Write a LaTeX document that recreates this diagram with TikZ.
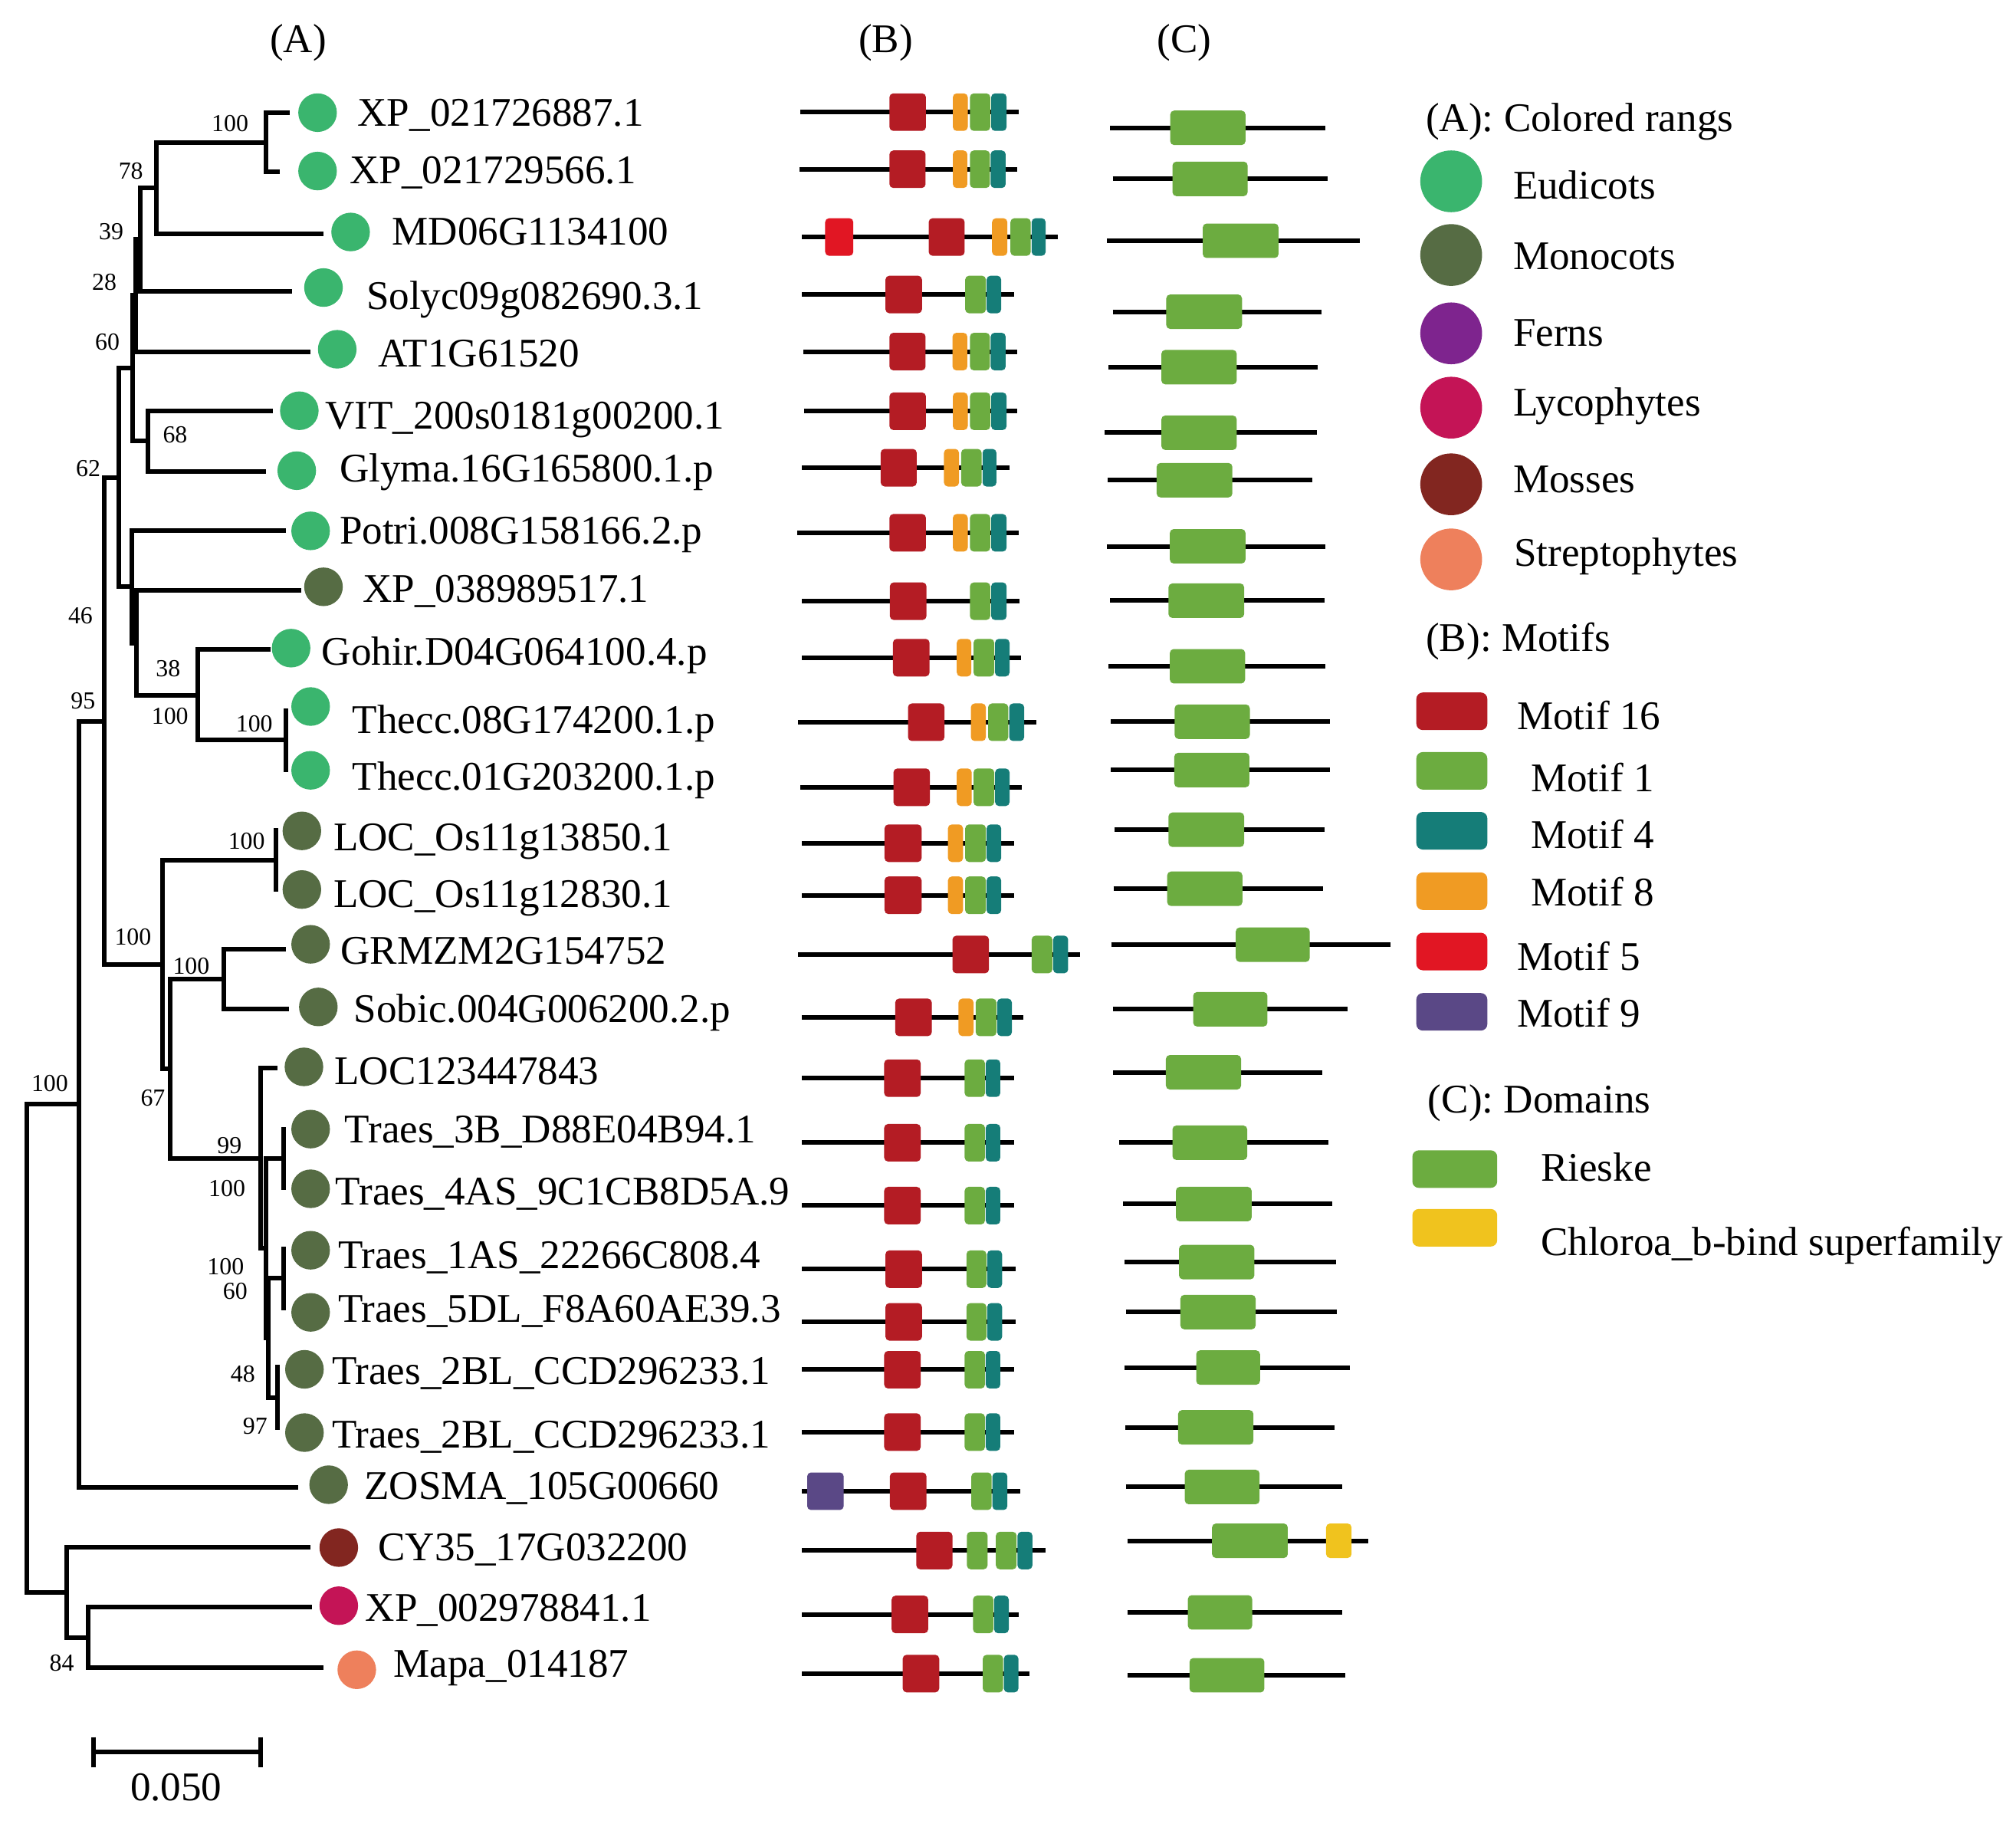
\documentclass[tikz,border=0pt]{standalone}
\usepackage{fontspec}
\setmainfont{Liberation Serif}
\definecolor{eud}{RGB}{58,181,110}
\definecolor{mono}{RGB}{86,108,68}
\definecolor{fern}{RGB}{126,36,142}
\definecolor{lyco}{RGB}{196,20,86}
\definecolor{moss}{RGB}{130,38,32}
\definecolor{strep}{RGB}{238,128,92}
\definecolor{cA}{RGB}{180,28,36}
\definecolor{cB}{RGB}{108,172,64}
\definecolor{cC}{RGB}{21,125,120}
\definecolor{cD}{RGB}{240,155,35}
\definecolor{cE}{RGB}{225,22,35}
\definecolor{cF}{RGB}{90,72,134}
\definecolor{cG}{RGB}{240,195,30}
\newcommand\seqrow[3]{\draw[seq] (#1,#3) -- (#2,#3);}
\newcommand\motbox[4]{\fill[#1] (#2,#4-14.6) rectangle (#3,#4+14.6);}
\newcommand\dombox[4]{\fill[#1] (#2,#4-13.4) rectangle (#3,#4+13.4);}
\begin{document}
\begin{tikzpicture}[x=0.01cm,y=-0.01cm,
  tree/.style={line width=1.02pt},
  seq/.style={line width=1.02pt},
  boot/.style={inner sep=0,font=\fontsize{5.4pt}{6pt}\selectfont},
  lab/.style={anchor=base west,inner sep=0,font=\fontsize{9pt}{11pt}\selectfont},
  head/.style={anchor=base,inner sep=0,font=\fontsize{9pt}{11pt}\selectfont},
  dot/.style={circle,inner sep=0,minimum size=0.30cm},
  legdot/.style={circle,inner sep=0,minimum size=0.48cm},
  mA/.style={fill=cA,rounded corners=0.03cm},
  mB/.style={fill=cB,rounded corners=0.03cm},
  mC/.style={fill=cC,rounded corners=0.03cm},
  mD/.style={fill=cD,rounded corners=0.03cm},
  mE/.style={fill=cE,rounded corners=0.03cm},
  mF/.style={fill=cF,rounded corners=0.03cm},
  dom/.style={fill=cB,rounded corners=0.03cm},
  chl/.style={fill=cG,rounded corners=0.03cm},
  legbox/.style={rounded corners=0.05cm}]
\fill[white] (0,0) rectangle (1568,1418);
\useasboundingbox (0,0) rectangle (1568,1418);

% headers
\node[head] (hA) at (232,41) {(A)};
\node[head] (hB) at (689,41) {(B)};
\node[head] (hC) at (921,41) {(C)};

% ---------- tree coordinates ----------
\coordinate (r) at (20.8,1048.5);
\coordinate (nSeed) at (61.2,858.7);
\coordinate (n84) at (51.9,1238.3);
\coordinate (nLyco) at (68.7,1273.2);
\coordinate (n95) at (81.1,561);
\coordinate (n62) at (92.4,371.3);
\coordinate (n60) at (103,286.3);
\coordinate (n28) at (105.8,229.7);
\coordinate (n39) at (109.3,186.3);
\coordinate (n78) at (121.8,146);
\coordinate (nA) at (207,110.7);
\coordinate (n68) at (115.3,343);
\coordinate (nPo) at (102.4,456.2);
\coordinate (nXP) at (106.4,500);
\coordinate (n38) at (154.1,540.7);
\coordinate (nTh) at (222.6,575.5);
\coordinate (nMo) at (126.2,750);
\coordinate (nLOC) at (214.7,668.9);
\coordinate (n67) at (132.2,831.3);
\coordinate (nGS) at (173.9,761.4);
\coordinate (n99) at (202.8,900.6);
\coordinate (nW) at (206.7,970.8);
\coordinate (n3B) at (220.3,901);
\coordinate (n48) at (208.7,1040.5);
\coordinate (n1AS) at (220.7,994);
\coordinate (n2BL) at (215.7,1086.8);
% tips
\coordinate (t1) at (225.6,87.6);
\coordinate (t2) at (217.6,133.8);
\coordinate (t3) at (251.6,181.6);
\coordinate (t4) at (227,226.6);
\coordinate (t5) at (241.5,273.4);
\coordinate (t6) at (212.3,319.7);
\coordinate (t7) at (207.1,366.4);
\coordinate (t8) at (222.6,412.5);
\coordinate (t9) at (234.6,459.2);
\coordinate (t10) at (210.7,504.9);
\coordinate (t11) at (222.6,550.6);
\coordinate (t12) at (222.6,600.3);
\coordinate (t13) at (214.7,644);
\coordinate (t14) at (214.7,693.3);
\coordinate (t15) at (222.6,737.9);
\coordinate (t16) at (225,784.8);
\coordinate (t17) at (215.7,830.4);
\coordinate (t18) at (220.3,876.6);
\coordinate (t19) at (220.3,925.3);
\coordinate (t20) at (220.7,969.6);
\coordinate (t21) at (220.7,1018.7);
\coordinate (t22) at (215.7,1061.4);
\coordinate (t23) at (215.7,1112.1);
\coordinate (t24) at (232.2,1156.4);
\coordinate (t25) at (241.6,1203.4);
\coordinate (t26) at (242.8,1249.5);
\coordinate (t27) at (251.6,1296.8);

% ---------- tree edges ----------
\draw[tree] (r) |- (nSeed);
\draw[tree] (r) |- (n84);
\draw[tree] (n84) |- (t25);
\draw[tree] (n84) |- (nLyco);
\draw[tree] (nLyco) |- (t26);
\draw[tree] (nLyco) |- (t27);
\draw[tree] (nSeed) |- (n95);
\draw[tree] (nSeed) |- (t24);
\draw[tree] (n95) |- (n62);
\draw[tree] (n95) |- (nMo);
\draw[tree] (n62) |- (n60);
\draw[tree] (n62) |- (nPo);
\draw[tree] (n60) |- (n28);
\draw[tree] (n60) |- (n68);
\draw[tree] (n28) |- (n39);
\draw[tree] (n28) |- (t5);
\draw[tree] (n39) |- (n78);
\draw[tree] (n39) |- (t4);
\draw[tree] (n78) |- (nA);
\draw[tree] (n78) |- (t3);
\draw[tree] (nA) |- (t1);
\draw[tree] (nA) |- (t2);
\draw[tree] (n68) |- (t6);
\draw[tree] (n68) |- (t7);
\draw[tree] (nPo) |- (t8);
\draw[tree] (nPo) |- (nXP);
\draw[tree] (nXP) |- (t9);
\draw[tree] (nXP) |- (n38);
\draw[tree] (n38) |- (t10);
\draw[tree] (n38) |- (nTh);
\draw[tree] (nTh) |- (t11);
\draw[tree] (nTh) |- (t12);
\draw[tree] (nMo) |- (nLOC);
\draw[tree] (nMo) |- (n67);
\draw[tree] (nLOC) |- (t13);
\draw[tree] (nLOC) |- (t14);
\draw[tree] (n67) |- (nGS);
\draw[tree] (n67) |- (n99);
\draw[tree] (nGS) |- (t15);
\draw[tree] (nGS) |- (t16);
\draw[tree] (n99) |- (t17);
\draw[tree] (n99) |- (nW);
\draw[tree] (nW) |- (n3B);
\draw[tree] (nW) |- (n48);
\draw[tree] (n3B) |- (t18);
\draw[tree] (n3B) |- (t19);
\draw[tree] (n48) |- (n1AS);
\draw[tree] (n48) |- (n2BL);
\draw[tree] (n1AS) |- (t20);
\draw[tree] (n1AS) |- (t21);
\draw[tree] (n2BL) |- (t22);
\draw[tree] (n2BL) |- (t23);

% ---------- bootstrap values ----------
\node[boot] (b1) at (178.9,95.8) {100};
\node[boot] (b2) at (101.8,133.2) {78};
\node[boot] (b3) at (86.5,180) {39};
\node[boot] (b4) at (81.1,219.7) {28};
\node[boot] (b5) at (83.5,266) {60};
\node[boot] (b6) at (136.2,338) {68};
\node[boot] (b7) at (68.6,364.5) {62};
\node[boot] (b8) at (62.6,479) {46};
\node[boot] (b9) at (130.8,519.8) {38};
\node[boot] (b10) at (64.6,544.7) {95};
\node[boot] (b11) at (132.2,556.6) {100};
\node[boot] (b12) at (197.8,562.6) {100};
\node[boot] (b13) at (191.8,654) {100};
\node[boot] (b14) at (103.4,728.5) {100};
\node[boot] (b15) at (148.7,751.4) {100};
\node[boot] (b16) at (38.7,842.3) {100};
\node[boot] (b17) at (118.9,853.7) {67};
\node[boot] (b18) at (178.5,890.5) {99};
\node[boot] (b19) at (176.5,924.3) {100};
\node[boot] (b20) at (175.5,984.9) {100};
\node[boot] (b21) at (182.9,1003.8) {60};
\node[boot] (b22) at (188.9,1068.4) {48};
\node[boot] (b23) at (198.4,1108.7) {97};
\node[boot] (b24) at (48,1293) {84};

% ---------- leaf dots ----------
\node[dot,fill=eud] (c1) at (247,87.6) {};
\node[dot,fill=eud] (c2) at (247,133) {};
\node[dot,fill=eud] (c3) at (272.7,180.4) {};
\node[dot,fill=eud] (c4) at (251.6,223.6) {};
\node[dot,fill=eud] (c5) at (262.3,271.6) {};
\node[dot,fill=eud] (c6) at (232.8,319.4) {};
\node[dot,fill=eud] (c7) at (230.8,366) {};
\node[dot,fill=eud] (c8) at (241.6,412.8) {};
\node[dot,fill=mono] (c9) at (251.6,456.3) {};
\node[dot,fill=eud] (c10) at (226.4,504) {};
\node[dot,fill=eud] (c11) at (241.6,549.4) {};
\node[dot,fill=eud] (c12) at (241.6,599) {};
\node[dot,fill=mono] (c13) at (234.8,646.1) {};
\node[dot,fill=mono] (c14) at (234.8,691.7) {};
\node[dot,fill=mono] (c15) at (241.6,734.3) {};
\node[dot,fill=mono] (c16) at (247.6,783) {};
\node[dot,fill=mono] (c17) at (236.4,829.6) {};
\node[dot,fill=mono] (c18) at (241.6,878) {};
\node[dot,fill=mono] (c19) at (241.6,924.4) {};
\node[dot,fill=mono] (c20) at (241.6,972.2) {};
\node[dot,fill=mono] (c21) at (241.6,1020.5) {};
\node[dot,fill=mono] (c22) at (236.8,1064.8) {};
\node[dot,fill=mono] (c23) at (236.8,1114) {};
\node[dot,fill=mono] (c24) at (255.6,1154.5) {};
\node[dot,fill=moss] (c25) at (263.5,1203.4) {};
\node[dot,fill=lyco] (c26) at (263.5,1248.6) {};
\node[dot,fill=strep] (c27) at (277.5,1298.4) {};

% ---------- leaf labels ----------
\node[lab] (L1) at (277.5,98) {XP\_021726887.1};
\node[lab] (L2) at (271.5,143) {XP\_021729566.1};
\node[lab] (L3) at (304.3,190.7) {MD06G1134100};
\node[lab] (L4) at (284.3,240.3) {Solyc09g082690.3.1};
\node[lab] (L5) at (293.5,285) {AT1G61520};
\node[lab] (L6) at (252.4,333.7) {VIT\_200s0181g00200.1};
\node[lab] (L7) at (263.5,374.8) {Glyma.16G165800.1.p};
\node[lab] (L8) at (263.5,422.8) {Potri.008G158166.2.p};
\node[lab] (L9) at (281.5,468.5) {XP\_038989517.1};
\node[lab] (L10) at (249.6,517.4) {Gohir.D04G064100.4.p};
\node[lab] (L11) at (273.5,570) {Thecc.08G174200.1.p};
\node[lab] (L12) at (273.5,614.2) {Thecc.01G203200.1.p};
\node[lab] (L13) at (258.7,661.3) {LOC\_Os11g13850.1};
\node[lab] (L14) at (258.7,705.4) {LOC\_Os11g12830.1};
\node[lab] (L15) at (264.3,749.5) {GRMZM2G154752};
\node[lab] (L16) at (274.7,795.2) {Sobic.004G006200.2.p};
\node[lab] (L17) at (259.5,843.3) {LOC123447843};
\node[lab] (L18) at (267.5,888.6) {Traes\_3B\_D88E04B94.1};
\node[lab] (L19) at (260.3,937) {Traes\_4AS\_9C1CB8D5A.9};
\node[lab] (L20) at (262.3,986.2) {Traes\_1AS\_22266C808.4};
\node[lab] (L21) at (262.3,1028) {Traes\_5DL\_F8A60AE39.3};
\node[lab] (L22) at (257.5,1076.3) {Traes\_2BL\_CCD296233.1};
\node[lab] (L23) at (257.5,1126) {Traes\_2BL\_CCD296233.1};
\node[lab] (L24) at (282.7,1165.6) {ZOSMA\_105G00660};
\node[lab] (L25) at (293.5,1213.7) {CY35\_17G032200};
\node[lab] (L26) at (283.5,1260.4) {XP\_002978841.1};
\node[lab] (L27) at (305.5,1304) {Mapa\_014187};

% ---------- scale bar ----------
\coordinate (sb1) at (73,1362.6);
\coordinate (sb2) at (202.8,1362.6);
\draw[tree] (sb1) -- (sb2);
\draw[tree] (73,1350.7) -- (73,1374.1);
\draw[tree] (202.8,1350.7) -- (202.8,1374.1);
\node[head] (sbl) at (137,1400) {0.050};

% ---------- (B) motifs ----------
\seqrow{622.7}{792.1}{87.2}
\motbox{mA}{691.8}{720.2}{87.2}\motbox{mD}{741.1}{752.7}{87.2}\motbox{mB}{754.4}{770.2}{87.2}\motbox{mC}{770.9}{782.9}{87.2}
\seqrow{622}{791.4}{131.6}
\motbox{mA}{691.8}{719.9}{131.6}\motbox{mD}{741.1}{752.4}{131.6}\motbox{mB}{754.4}{769.9}{131.6}\motbox{mC}{770.5}{782.2}{131.6}
\seqrow{623.7}{822.9}{184.3}
\motbox{mE}{641.8}{663.7}{184.3}\motbox{mA}{722.3}{750.3}{184.3}\motbox{mD}{771.6}{783.5}{184.3}\motbox{mB}{785.9}{801.7}{184.3}\motbox{mC}{802.4}{813.3}{184.3}
\seqrow{623.7}{788.7}{229}
\motbox{mA}{688.7}{717.1}{229}\motbox{mB}{750.7}{766.8}{229}\motbox{mC}{767.4}{778.7}{229}
\seqrow{625}{791.4}{273.4}
\motbox{mA}{691.8}{719.9}{273.4}\motbox{mD}{740.8}{752.4}{273.4}\motbox{mB}{754.4}{769.9}{273.4}\motbox{mC}{770.5}{782.2}{273.4}
\seqrow{625.4}{791.4}{319.8}
\motbox{mA}{691.8}{720.2}{319.8}\motbox{mD}{741.1}{752.7}{319.8}\motbox{mB}{754.4}{770.2}{319.8}\motbox{mC}{770.9}{782.9}{319.8}
\seqrow{623.7}{784.9}{363.7}
\motbox{mA}{685}{713}{363.7}\motbox{mD}{734.2}{745.9}{363.7}\motbox{mB}{747.6}{763.5}{363.7}\motbox{mC}{764.2}{775}{363.7}
\seqrow{620.3}{792.1}{414.3}
\motbox{mA}{691.8}{720.2}{414.3}\motbox{mD}{741.1}{752.7}{414.3}\motbox{mB}{754.4}{770.2}{414.3}\motbox{mC}{770.9}{782.9}{414.3}
\seqrow{623.7}{793.1}{467.5}
\motbox{mA}{692.1}{720.6}{467.5}\motbox{mB}{754.4}{770.2}{467.5}\motbox{mC}{770.9}{782.9}{467.5}
\seqrow{623.7}{794.1}{511.4}
\motbox{mA}{694.5}{723}{511.4}\motbox{mD}{744.2}{755.5}{511.4}\motbox{mB}{757.2}{773.3}{511.4}\motbox{mC}{773.9}{785.2}{511.4}
\seqrow{620.9}{805.8}{561.6}
\motbox{mA}{706.2}{734.6}{561.6}\motbox{mD}{755.1}{766.8}{561.6}\motbox{mB}{768.5}{784.2}{561.6}\motbox{mC}{784.9}{796.6}{561.6}
\seqrow{622.7}{794.8}{612.2}
\motbox{mA}{694.9}{723.3}{612.2}\motbox{mD}{744.2}{755.8}{612.2}\motbox{mB}{757.2}{773.3}{612.2}\motbox{mC}{774}{785.2}{612.2}
\seqrow{623.7}{788.7}{655.7}
\motbox{mA}{688}{716.8}{655.7}\motbox{mD}{737.3}{749}{655.7}\motbox{mB}{750.7}{766.8}{655.7}\motbox{mC}{767.4}{778.7}{655.7}
\seqrow{623.7}{788.7}{696.2}
\motbox{mA}{688}{716.8}{696.2}\motbox{mD}{737.3}{749}{696.2}\motbox{mB}{750.7}{766.8}{696.2}\motbox{mC}{767.4}{778.7}{696.2}
\seqrow{620.9}{840}{742.2}
\motbox{mA}{740.8}{769.2}{742.2}\motbox{mB}{802.4}{818.5}{742.2}\motbox{mC}{819.1}{830.8}{742.2}
\seqrow{623.7}{796.2}{791.1}
\motbox{mA}{696.3}{724.7}{791.1}\motbox{mD}{745.5}{757.2}{791.1}\motbox{mB}{758.9}{775}{791.1}\motbox{mC}{775.6}{787}{791.1}
\seqrow{623.7}{788.7}{838.4}
\motbox{mA}{687.7}{716.1}{838.4}\motbox{mB}{750.3}{766.1}{838.4}\motbox{mC}{766.7}{778}{838.4}
\seqrow{623.7}{788.7}{888.6}
\motbox{mA}{687.7}{716.1}{888.6}\motbox{mB}{750.3}{766.1}{888.6}\motbox{mC}{766.7}{778}{888.6}
\seqrow{623.7}{788.7}{937.5}
\motbox{mA}{687.7}{716.1}{937.5}\motbox{mB}{750.3}{766.1}{937.5}\motbox{mC}{766.7}{778}{937.5}
\seqrow{623.7}{789.7}{986.9}
\motbox{mA}{688.7}{717.1}{986.9}\motbox{mB}{751.7}{767.2}{986.9}\motbox{mC}{767.8}{779.4}{986.9}
\seqrow{623.7}{789.7}{1027.9}
\motbox{mA}{688.7}{717.1}{1027.9}\motbox{mB}{751.7}{767.2}{1027.9}\motbox{mC}{767.8}{779.4}{1027.9}
\seqrow{623.7}{788.7}{1065.1}
\motbox{mA}{687.7}{716.1}{1065.1}\motbox{mB}{750.3}{766.1}{1065.1}\motbox{mC}{766.7}{778}{1065.1}
\seqrow{623.7}{788.7}{1113.6}
\motbox{mA}{687.7}{716.1}{1113.6}\motbox{mB}{750.3}{766.1}{1113.6}\motbox{mC}{766.7}{778}{1113.6}
\seqrow{623.7}{793.8}{1159.6}
\motbox{mF}{627.8}{656.2}{1159.6}\motbox{mA}{692.1}{720.6}{1159.6}\motbox{mB}{755.5}{771.3}{1159.6}\motbox{mC}{771.9}{783.5}{1159.6}
\seqrow{623.7}{813.3}{1205.7}
\motbox{mA}{712.7}{740.8}{1205.7}\motbox{mB}{752}{768.1}{1205.7}\motbox{mB}{774.6}{790.7}{1205.7}\motbox{mC}{791.4}{803}{1205.7}
\seqrow{623.7}{792.4}{1255.4}
\motbox{mA}{693.5}{721.9}{1255.4}\motbox{mB}{756.8}{772.6}{1255.4}\motbox{mC}{773.2}{784.6}{1255.4}
\seqrow{623.7}{800.7}{1301.4}
\motbox{mA}{702.1}{730.5}{1301.4}\motbox{mB}{764.4}{780.2}{1301.4}\motbox{mC}{780.8}{792.1}{1301.4}

% ---------- (C) domains ----------
\seqrow{863.3}{1031}{99.4}\dombox{dom}{910.2}{968.7}{99.4}
\seqrow{865.4}{1032.7}{139.1}\dombox{dom}{911.9}{970.4}{139.1}
\seqrow{860.9}{1057.7}{187.2}\dombox{dom}{935.5}{994.4}{187.2}
\seqrow{865.4}{1027.6}{242.4}\dombox{dom}{907.1}{966}{242.4}
\seqrow{862.3}{1024.9}{285.5}\dombox{dom}{903.3}{961.9}{285.5}
\seqrow{859.2}{1024.2}{336.5}\dombox{dom}{903.3}{961.9}{336.5}
\seqrow{861.6}{1020.8}{373.4}\dombox{dom}{899.6}{958.5}{373.4}
\seqrow{860.9}{1031}{424.8}\dombox{dom}{909.9}{968.7}{424.8}
\seqrow{863.3}{1030.3}{467.1}\dombox{dom}{908.8}{967.7}{467.1}
\seqrow{862}{1031}{518.1}\dombox{dom}{909.9}{968.4}{518.1}
\seqrow{864}{1034.4}{561.2}\dombox{dom}{913.6}{972.1}{561.2}
\seqrow{864}{1034.4}{598.8}\dombox{dom}{913.3}{971.8}{598.8}
\seqrow{867}{1030.3}{645.2}\dombox{dom}{908.8}{967.7}{645.2}
\seqrow{866}{1029.3}{691.1}\dombox{dom}{907.8}{966.3}{691.1}
\seqrow{864.3}{1081.3}{734.6}\dombox{dom}{961.2}{1018.7}{734.6}
\seqrow{865.4}{1048.1}{784.8}\dombox{dom}{928}{985.8}{784.8}
\seqrow{865.7}{1028.3}{833.8}\dombox{dom}{906.8}{965.3}{833.8}
\seqrow{870.5}{1033.4}{888.6}\dombox{dom}{911.9}{970.1}{888.6}
\seqrow{873.6}{1036.2}{936.3}\dombox{dom}{914.6}{973.5}{936.3}
\seqrow{874.9}{1038.9}{981.4}\dombox{dom}{917}{975.6}{981.4}
\seqrow{875.6}{1039.6}{1020.3}\dombox{dom}{918.1}{976.6}{1020.3}
\seqrow{874.9}{1049.9}{1063.4}\dombox{dom}{930.4}{980}{1063.4}
\seqrow{875.3}{1037.9}{1109.9}\dombox{dom}{916.3}{974.9}{1109.9}
\seqrow{875.6}{1043.7}{1156.3}\dombox{dom}{921.5}{979.7}{1156.3}
\seqrow{877}{1064.2}{1198.1}\dombox{dom}{942.7}{1001.6}{1198.1}\dombox{chl}{1031.4}{1051.2}{1198.1}
\seqrow{877}{1043.7}{1253.8}\dombox{dom}{923.9}{973.9}{1253.8}
\seqrow{877}{1046.1}{1302.7}\dombox{dom}{925.2}{983.4}{1302.7}

% ---------- legend ----------
\node[lab] (gA) at (1108.4,102.2) {(A): Colored rangs};
\node[legdot,fill=eud] (d1) at (1128.7,141) {};
\node[legdot,fill=mono] (d2) at (1128.7,198.3) {};
\node[legdot,fill=fern] (d3) at (1128.7,259.2) {};
\node[legdot,fill=lyco] (d4) at (1128.7,317) {};
\node[legdot,fill=moss] (d5) at (1128.7,376.6) {};
\node[legdot,fill=strep] (d6) at (1128.7,435) {};
\node[lab] (e1) at (1176.2,154.8) {Eudicots};
\node[lab] (e2) at (1176.2,209.6) {Monocots};
\node[lab] (e3) at (1176.2,269) {Ferns};
\node[lab] (e4) at (1176.2,323.5) {Lycophytes};
\node[lab] (e5) at (1176.2,383) {Mosses};
\node[lab] (e6) at (1177,440) {Streptophytes};
\node[lab] (gB) at (1108.4,506.5) {(B): Motifs};
\fill[cA,legbox] (1101.6,538.5) rectangle (1156.8,567.7);
\fill[cB,legbox] (1101.6,584.8) rectangle (1156.8,614);
\fill[cC,legbox] (1101.6,631.4) rectangle (1156.8,660.6);
\fill[cD,legbox] (1101.6,678.4) rectangle (1156.8,707.6);
\fill[cE,legbox] (1101.6,725.3) rectangle (1156.8,754.5);
\fill[cF,legbox] (1101.6,772.2) rectangle (1156.8,801.4);
\node[lab] (f1) at (1179.2,567.4) {Motif 16};
\node[lab] (f2) at (1190,615.4) {Motif 1};
\node[lab] (f3) at (1190,659.9) {Motif 4};
\node[lab] (f4) at (1190,704.3) {Motif 8};
\node[lab] (f5) at (1179.2,754.2) {Motif 5};
\node[lab] (f6) at (1179.2,798.6) {Motif 9};
\node[lab] (gC) at (1110,865.5) {(C): Domains};
\fill[cB,legbox] (1098.5,894.5) rectangle (1164.5,923.7);
\fill[cG,legbox] (1098.5,940.1) rectangle (1164.5,969.3);
\node[lab] (h1) at (1197.7,918.5) {Rieske};
\node[lab] (h2) at (1197.7,976.3) {Chloroa\_b-bind superfamily};
\end{tikzpicture}
\end{document}
